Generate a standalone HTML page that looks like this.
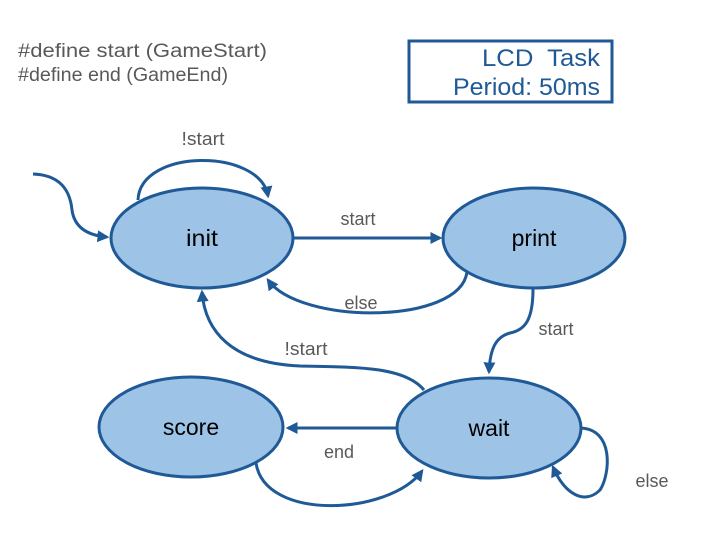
<!DOCTYPE html>
<html><head><meta charset="utf-8"><style>
html,body{margin:0;padding:0;background:#fff;width:710px;height:551px;overflow:hidden}
svg{display:block;font-family:"Liberation Sans",Arial,sans-serif}
</style></head><body>
<svg width="710" height="551" viewBox="0 0 710 551" xmlns="http://www.w3.org/2000/svg">
<defs>
<marker id="a" viewBox="0 0 10 10" refX="8" refY="5" markerWidth="4" markerHeight="4" orient="auto" markerUnits="strokeWidth">
<path d="M0,0 L10,5 L0,10 z" fill="#1F5A96"/></marker>
</defs>
<text x="18" y="57" font-size="19" fill="#595959" textLength="249" lengthAdjust="spacingAndGlyphs">#define start (GameStart)</text>
<text x="18" y="81" font-size="19" fill="#595959" textLength="210" lengthAdjust="spacingAndGlyphs">#define end (GameEnd)</text>
<rect x="409" y="41" width="203" height="61" fill="#fff" stroke="#1F5A96" stroke-width="3"/>
<text x="600" y="66" font-size="24" fill="#1F5A96" text-anchor="end" xml:space="preserve" textLength="118" lengthAdjust="spacingAndGlyphs">LCD  Task</text>
<text x="600" y="95" font-size="24" fill="#1F5A96" text-anchor="end" textLength="147" lengthAdjust="spacingAndGlyphs">Period: 50ms</text>
<g fill="none" stroke="#1F5A96" stroke-width="3">
<path d="M33,174 C60,175 70,190 72,210 C75,232 95,236 107,237" marker-end="url(#a)"/>
<path d="M138,200 C140,148 260,148 268,196" marker-end="url(#a)"/>
<path d="M293,238 L440,238" marker-end="url(#a)"/>
<path d="M467,272 C460,325 300,325 268,280" marker-end="url(#a)"/>
<path d="M533,289 C533,320 525,330 510,333 C495,337 490,350 489,372" marker-end="url(#a)"/>
<path d="M424,390 C405,367 360,367 300,366 C230,363 205,330 202,292" marker-end="url(#a)"/>
<path d="M397,428 L288,428" marker-end="url(#a)"/>
<path d="M256,463 C265,522 390,515 422,471" marker-end="url(#a)"/>
<path d="M579,428 C615,428 610,475 600,490 C585,505 565,495 553,467" marker-end="url(#a)"/>
</g>
<g fill="#9DC3E6" stroke="#1F5A96" stroke-width="3">
<ellipse cx="202" cy="238" rx="91" ry="50"/>
<ellipse cx="534" cy="238" rx="91" ry="50"/>
<ellipse cx="489" cy="428" rx="92" ry="50"/>
<ellipse cx="191" cy="427" rx="92" ry="50"/>
</g>
<g font-size="23" fill="#000" text-anchor="middle">
<text x="202" y="246" textLength="32" lengthAdjust="spacingAndGlyphs">init</text>
<text x="534" y="246">print</text>
<text x="489" y="436">wait</text>
<text x="191" y="435">score</text>
</g>
<g font-size="18" fill="#595959" text-anchor="middle">
<text x="203" y="145" textLength="43" lengthAdjust="spacingAndGlyphs">!start</text>
<text x="358" y="225">start</text>
<text x="361" y="309">else</text>
<text x="556" y="335">start</text>
<text x="306" y="355" textLength="43" lengthAdjust="spacingAndGlyphs">!start</text>
<text x="339" y="458">end</text>
<text x="652" y="487">else</text>
</g>
</svg>
</body></html>
